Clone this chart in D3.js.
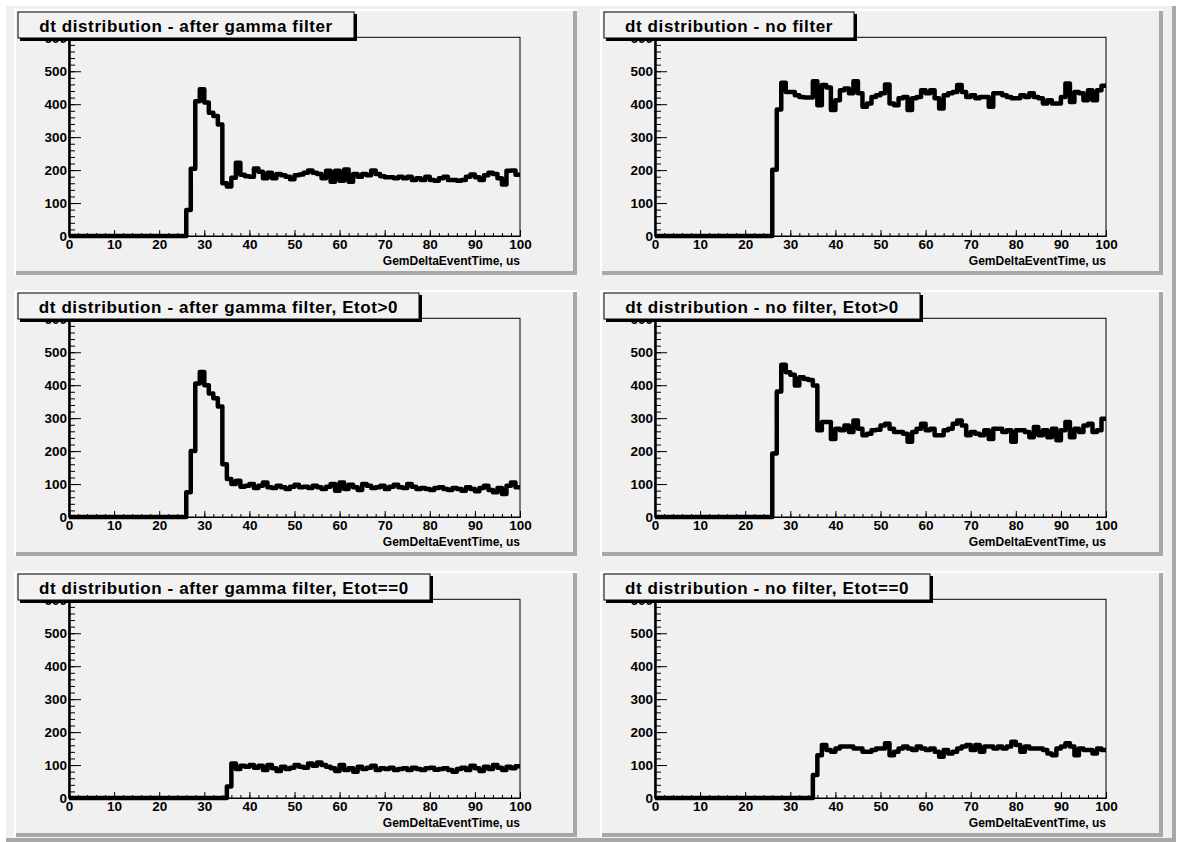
<!DOCTYPE html>
<html>
<head>
<meta charset="utf-8">
<script src="https://cdn.jsdelivr.net/npm/d3@7"></script>
<style>
  html, body { margin: 0; padding: 0; background: #ffffff; }
  svg { display: block; }
  text { font-family: "Liberation Sans", Arial, Helvetica, sans-serif; font-weight: bold; }
</style>
</head>
<body>
<div id="chart"></div>
<script>
// panel titles, left column then right column, row by row
var titles = [
  "dt distribution - after gamma filter",
  "dt distribution - no filter",
  "dt distribution - after gamma filter, Etot>0",
  "dt distribution - no filter, Etot>0",
  "dt distribution - after gamma filter, Etot==0",
  "dt distribution - no filter, Etot==0"
];
var xTitle = "GemDeltaEventTime, us";

// bin contents, 100 bins of 1 us from 0 to 100
var gammaAll = [0,0,0,0,0,0,0,0,0,0, 0,0,0,0,0,0,0,0,0,0, 0,0,0,0,0,0,79,204,409,445,
  405,374,364,338,160,150,177,222,186,181,
  180,205,195,175,192,175,188,184,180,172,
  184,187,192,199,192,188,175,198,165,198,
  168,202,165,188,180,188,184,199,188,181,
  178,178,175,180,175,180,170,175,170,180,
  170,168,175,180,170,170,168,170,180,187,
  178,170,184,192,188,175,156,198,199,186];
var noFilterAll = [0,0,0,0,0,0,0,0,0,0, 0,0,0,0,0,0,0,0,0,0, 0,0,0,0,0,0,201,384,465,437,
  437,427,422,420,420,470,397,458,451,382,
  412,442,448,433,470,433,392,402,422,427,
  433,460,402,397,418,422,382,418,422,442,
  433,442,418,387,427,433,437,458,437,422,
  427,418,422,422,392,433,433,427,422,418,
  418,427,422,433,422,418,402,412,402,402,
  422,463,407,437,433,412,442,412,442,456];
var gammaEpos = [0,0,0,0,0,0,0,0,0,0, 0,0,0,0,0,0,0,0,0,0, 0,0,0,0,0,0,75,200,405,440,
  400,375,360,335,160,115,100,110,92,95,
  100,88,95,105,90,88,95,90,85,92,
  98,90,92,88,95,90,85,92,100,80,
  105,85,98,90,82,100,95,88,90,95,
  85,92,98,90,88,100,92,85,88,85,
  82,88,90,85,82,88,85,80,90,85,
  78,88,95,82,75,88,70,95,105,90];
var noFilterEpos = [0,0,0,0,0,0,0,0,0,0, 0,0,0,0,0,0,0,0,0,0, 0,0,0,0,0,0,193,381,462,439,
  432,399,424,419,416,399,263,288,288,237,
  268,263,278,258,293,268,248,253,263,265,
  278,283,268,258,258,253,228,258,268,283,
  263,268,248,248,263,268,283,293,278,248,
  258,253,248,263,237,268,268,258,263,228,
  263,263,258,242,273,248,263,242,268,233,
  263,288,242,268,258,278,283,258,263,298];
var gammaEzero = [0,0,0,0,0,0,0,0,0,0, 0,0,0,0,0,0,0,0,0,0, 0,0,0,0,0,0,0,0,0,0, 0,0,0,0,0,35,105,88,98,95,
  100,92,98,85,100,90,82,95,88,92,
  100,95,92,105,98,108,100,95,90,82,
  100,85,90,80,95,88,92,98,85,90,
  88,92,85,88,90,85,92,88,85,90,
  92,86,88,90,85,80,88,92,85,98,
  90,82,95,88,100,92,85,95,90,96];
var noFilterEzero = [0,0,0,0,0,0,0,0,0,0, 0,0,0,0,0,0,0,0,0,0, 0,0,0,0,0,0,0,0,0,0, 0,0,0,0,0,70,130,161,146,140,
  150,156,156,156,150,150,140,140,146,150,
  150,166,130,140,150,156,150,146,156,150,
  146,150,140,125,146,135,140,150,156,161,
  146,161,140,156,156,150,156,150,156,171,
  161,140,156,150,150,150,146,135,130,150,
  156,166,156,130,150,146,146,135,150,146];
var series = [gammaAll, noFilterAll, gammaEpos, noFilterEpos, gammaEzero, noFilterEzero];

var xMajor = d3.range(0, 101, 10);
var xMinor = d3.range(0, 101, 2);
var yMajor = d3.range(0, 601, 100);
var yMinor = d3.range(0, 601, 20);

var W = 1180, H = 842;
var padX = [14, 600], padY = [9, 290, 571];
var padW = 563, padH = 266;
var fx0 = 55, fx1 = 506, fyTop = 28.3, fyBot = 227;

var svg = d3.select("#chart").append("svg")
    .attr("width", W)
    .attr("height", H);

// canvas with bevel
svg.append("rect").attr("x", 0).attr("y", 0).attr("width", W).attr("height", H).style("fill", "#ffffff");
svg.append("rect").attr("x", 6).attr("y", 6).attr("width", 1166).attr("height", 832).style("fill", "#f0f0f0");
svg.append("rect").attr("x", 1172).attr("y", 6).attr("width", 4).attr("height", 836).style("fill", "#a8a8a8");
svg.append("rect").attr("x", 6).attr("y", 838).attr("width", 1170).attr("height", 4).style("fill", "#a8a8a8");

var x = d3.scaleLinear().domain([0, 100]).range([fx0, fx1]);
var y = d3.scaleLinear().domain([0, 603]).range([fyBot, fyTop]);

var line = d3.line()
    .x(function(d) { return x(d[0]); })
    .y(function(d) { return y(d[1]); })
    .curve(d3.curveStepAfter);

series.forEach(function(vals, i) {
  var col = i % 2, row = Math.floor(i / 2);
  var g = svg.append("g")
      .attr("transform", "translate(" + padX[col] + "," + padY[row] + ")");

  // pad
  g.append("rect").attr("width", padW).attr("height", padH).style("fill", "#f0f0f0");
  g.append("rect").attr("x", 0).attr("y", 0).attr("width", padW).attr("height", 2).style("fill", "#ffffff");
  g.append("rect").attr("x", 0).attr("y", 0).attr("width", 2).attr("height", padH).style("fill", "#ffffff");
  g.append("rect").attr("x", padW - 4).attr("y", 2).attr("width", 4).attr("height", padH - 2).style("fill", "#a8a8a8");
  g.append("rect").attr("x", 2).attr("y", padH - 4).attr("width", padW - 2).attr("height", 4).style("fill", "#a8a8a8");

  // frame
  g.append("rect")
      .attr("x", fx0).attr("y", fyTop)
      .attr("width", fx1 - fx0).attr("height", fyBot - fyTop)
      .style("fill", "none").style("stroke", "black").style("stroke-width", 1);

  // y axis, ticks pointing into the frame
  var yAx = g.append("g").attr("transform", "translate(" + fx0 + ",0)");
  yAx.append("g")
      .call(d3.axisLeft(y).tickValues(yMinor).tickFormat("").tickSizeInner(-6).tickSizeOuter(0).tickPadding(3));
  yAx.append("g")
      .call(d3.axisLeft(y).tickValues(yMajor).tickFormat(d3.format("d")).tickSizeInner(-12).tickSizeOuter(0).tickPadding(2));
  yAx.selectAll("path.domain").style("stroke", "black").style("stroke-width", 2);
  yAx.selectAll("line").style("stroke", "black");
  yAx.selectAll("text").style("font-size", "13.5px").style("fill", "black");

  // x axis
  var xAx = g.append("g").attr("transform", "translate(0," + fyBot + ")");
  xAx.append("g")
      .call(d3.axisBottom(x).tickValues(xMinor).tickFormat("").tickSizeInner(-3).tickSizeOuter(0));
  xAx.append("g")
      .call(d3.axisBottom(x).tickValues(xMajor).tickFormat(d3.format("d")).tickSizeInner(-6).tickSizeOuter(0).tickPadding(3));
  xAx.selectAll("path.domain").style("stroke", "black");
  xAx.selectAll("line").style("stroke", "black");
  xAx.selectAll("text").style("font-size", "13.5px").style("fill", "black");

  g.append("text")
      .attr("x", fx1).attr("y", fyBot + 29)
      .attr("text-anchor", "end")
      .style("font-size", "12px")
      .text(xTitle);

  // histogram outline
  var pts = vals.map(function(v, k) { return [k, v]; });
  pts.push([100, vals[vals.length - 1]]);
  g.append("path")
      .datum(pts)
      .attr("d", line)
      .style("fill", "none")
      .style("stroke", "black")
      .style("stroke-width", 4.5)
      .style("stroke-linejoin", "round");

  // title box
  var tb = g.append("g");
  var shadow = tb.append("rect");
  var box = tb.append("rect");
  var t = tb.append("text")
      .attr("text-anchor", "middle")
      .style("font-size", "17px")
      .style("letter-spacing", "0.6px")
      .text(titles[i]);
  var tw = t.node().getComputedTextLength();
  var bw = Math.round(tw + 42), bx = 4, by = 3, bh = 26;
  shadow.attr("x", bx + 2).attr("y", by + 2).attr("width", bw + 1).attr("height", bh + 1).style("fill", "black");
  box.attr("x", bx).attr("y", by).attr("width", bw).attr("height", bh)
      .style("fill", "#f2f2f2").style("stroke", "black").style("stroke-width", 1);
  t.attr("x", bx + bw / 2).attr("y", by + 19.5);
});
</script>
</body>
</html>
